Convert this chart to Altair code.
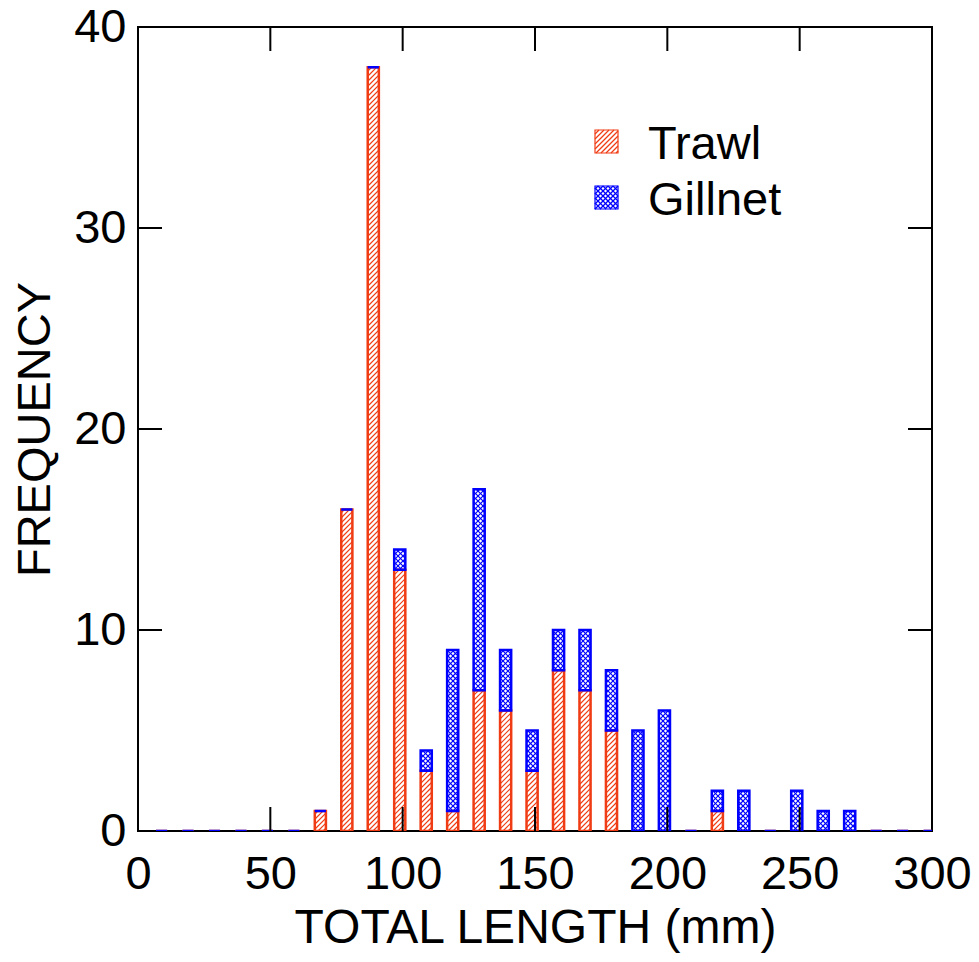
import altair as alt
import pandas as pd
import numpy as np

# ---- data ----
lengths = [10, 20, 30, 40, 50, 60, 70, 80, 90, 100, 110, 120, 130, 140, 150,
           160, 170, 180, 190, 200, 210, 220, 230, 240, 250, 260, 270, 280, 290, 300]
trawl   = [0, 0, 0, 0, 0, 0, 1, 16, 38, 13, 3, 1, 7, 6, 3,
           8, 7, 5, 0, 0, 0, 1, 0, 0, 0, 0, 0, 0, 0, 0]
gillnet = [0, 0, 0, 0, 0, 0, 0, 0, 0, 1, 1, 8, 10, 3, 2,
           2, 3, 3, 5, 6, 0, 1, 2, 0, 2, 1, 1, 0, 0, 0]
series = ["Trawl", "Gillnet"]
x_ticks = [0, 50, 100, 150, 200, 250, 300]
y_ticks = [0, 10, 20, 30, 40]

# ---- style / layout ----
X_MAX, Y_MAX = 300, 40
W, H = 794, 804
XS, YS = W / X_MAX, H / Y_MAX
RED, BLUE = "#f03c14", "#0000ff"
FONT = "Liberation Sans"
FS = 47
BAR_LEFT, BAR_RIGHT = 3.2, 1.0
TICK = 24

bars = pd.DataFrame({"length": lengths, "trawl": trawl, "gillnet": gillnet})
bars["x0"] = bars["length"] - BAR_LEFT
bars["x1"] = bars["length"] + BAR_RIGHT
bars["t_lo"] = 0
bars["t_hi"] = bars["trawl"]
bars["g_lo"] = bars["trawl"]
bars["g_hi"] = bars["trawl"] + bars["gillnet"]


def hatch(X0, X1, Y0, Y1, step, dirs):
    """diagonal hatch segments clipped to a rectangle (pixel frame, y up)"""
    segs = []
    for d in dirs:
        if d == "/":
            k0 = int(np.ceil((Y0 - X1) / step)); k1 = int(np.floor((Y1 - X0) / step))
            for k in range(k0, k1 + 1):
                c = k * step
                xa = max(X0, Y0 - c); xb = min(X1, Y1 - c)
                if xb - xa > 0.2:
                    segs.append((xa, xa + c, xb, xb + c))
        else:
            k0 = int(np.ceil((X0 + Y0) / step)); k1 = int(np.floor((X1 + Y1) / step))
            for k in range(k0, k1 + 1):
                c = k * step
                xa = max(X0, c - Y1); xb = min(X1, c - Y0)
                if xb - xa > 0.2:
                    segs.append((xa, c - xa, xb, c - xb))
    return segs


PAT = {"Trawl": (5.0, "/"), "Gillnet": (5.0, "/\\")}
SW = {"Trawl": 1.2, "Gillnet": 1.15}


def hatch_table(rows, name):
    step, dirs = PAT[name]
    out = []
    for x0, x1, y0, y1 in rows:
        if y1 - y0 <= 0:
            continue
        for xa, ya, xb, yb in hatch(x0 * XS, x1 * XS, y0 * YS, y1 * YS, step, dirs):
            out.append({"xa": xa / XS, "ya": ya / YS, "xb": xb / XS, "yb": yb / YS})
    return pd.DataFrame(out, columns=["xa", "ya", "xb", "yb"])


red_h = hatch_table(zip(bars.x0, bars.x1, bars.t_lo, bars.t_hi), "Trawl")
blue_h = hatch_table(zip(bars.x0, bars.x1, bars.g_lo, bars.g_hi), "Gillnet")

# legend swatch geometry (pixels inside plot, y from top)
LEG_X0, LEG_X1 = 457, 480
LEG_Y0, LEG_SIZE, LEG_GAP = 103, 23, 56
LEG_TX = 510
leg_h = []
for i, name in enumerate(series):
    top = LEG_Y0 + i * LEG_GAP
    rows = [(LEG_X0 / XS, LEG_X1 / XS, (H - top - LEG_SIZE) / YS, (H - top) / YS)]
    leg_h.append(hatch_table(rows, name))

xscale = alt.Scale(domain=[0, X_MAX], nice=False, zero=False)
yscale = alt.Scale(domain=[0, Y_MAX], nice=False)
xaxis = alt.Axis(values=x_ticks, title="TOTAL LENGTH (mm)", grid=False, ticks=False,
                 tickSize=0, domain=False, labelFontSize=FS, labelFont=FONT,
                 labelColor="black", labelPadding=20, labelFlush=False,
                 labelOverlap=False, titleFontSize=FS + 1, titleFont=FONT,
                 titleFontWeight="normal", titleColor="black", titlePadding=7)
yaxis = alt.Axis(values=y_ticks, title="FREQUENCY", grid=False, ticks=False,
                 tickSize=0, domain=False, labelFontSize=FS, labelFont=FONT,
                 labelColor="black", labelPadding=12, labelFlush=False,
                 labelOverlap=False, titleFontSize=FS, titleFont=FONT,
                 titleFontWeight="normal", titleColor="black", titlePadding=14)


def X(f):
    return alt.X(f, type="quantitative", scale=xscale, axis=xaxis)


def Y(f):
    return alt.Y(f, type="quantitative", scale=yscale, axis=yaxis)


def hatch_layer(df, color, sw):
    return alt.Chart(df).mark_rule(color=color, strokeWidth=sw, clip=True).encode(
        x=X("xa"), y=Y("ya"), x2="xb", y2="yb")


layers = [
    hatch_layer(red_h, RED, SW["Trawl"]),
    alt.Chart(bars).mark_rect(fillOpacity=0, stroke=RED, strokeWidth=2.5, clip=True).encode(
        x=X("x0"), x2="x1", y=Y("t_lo"), y2="t_hi"),
    hatch_layer(blue_h, BLUE, SW["Gillnet"]),
    alt.Chart(bars).mark_rect(fillOpacity=0, stroke=BLUE, strokeWidth=2.5, clip=True).encode(
        x=X("x0"), x2="x1", y=Y("g_lo"), y2="g_hi"),
]

xt = pd.DataFrame({"v": x_ticks[1:-1]})
yt = pd.DataFrame({"v": y_ticks[1:-1]})
layers += [
    alt.Chart(xt).mark_rule(color="black", strokeWidth=2).encode(
        x=X("v"), y=alt.value(H), y2=alt.value(H - TICK)),
    alt.Chart(xt).mark_rule(color="black", strokeWidth=2).encode(
        x=X("v"), y=alt.value(0), y2=alt.value(TICK)),
    alt.Chart(yt).mark_rule(color="black", strokeWidth=2).encode(
        y=Y("v"), x=alt.value(0), x2=alt.value(TICK)),
    alt.Chart(yt).mark_rule(color="black", strokeWidth=2).encode(
        y=Y("v"), x=alt.value(W), x2=alt.value(W - TICK)),
]

for i, name in enumerate(series):
    color = RED if name == "Trawl" else BLUE
    top = LEG_Y0 + i * LEG_GAP
    lab = pd.DataFrame({"label": [name]})
    layers.append(hatch_layer(leg_h[i], color, SW[name]))
    layers.append(alt.Chart(lab).mark_rect(fillOpacity=0, stroke=color, strokeWidth=1.2).encode(
        x=alt.value(LEG_X0), x2=alt.value(LEG_X1), y=alt.value(top), y2=alt.value(top + LEG_SIZE)))
    layers.append(alt.Chart(lab).mark_text(align="left", baseline="alphabetic", fontSize=FS,
                                           font=FONT, color="black").encode(
        text="label:N", x=alt.value(LEG_TX), y=alt.value(top + 29)))

chart = alt.layer(*layers).properties(
    width=W, height=H,
    padding={"left": 138, "top": 27, "right": 47, "bottom": 131},
    autosize=alt.AutoSizeParams(type="none"),
    background="white",
).configure_view(stroke="black", strokeWidth=2)

chart.save("out.html", embed_options={"renderer": "svg", "actions": False})
